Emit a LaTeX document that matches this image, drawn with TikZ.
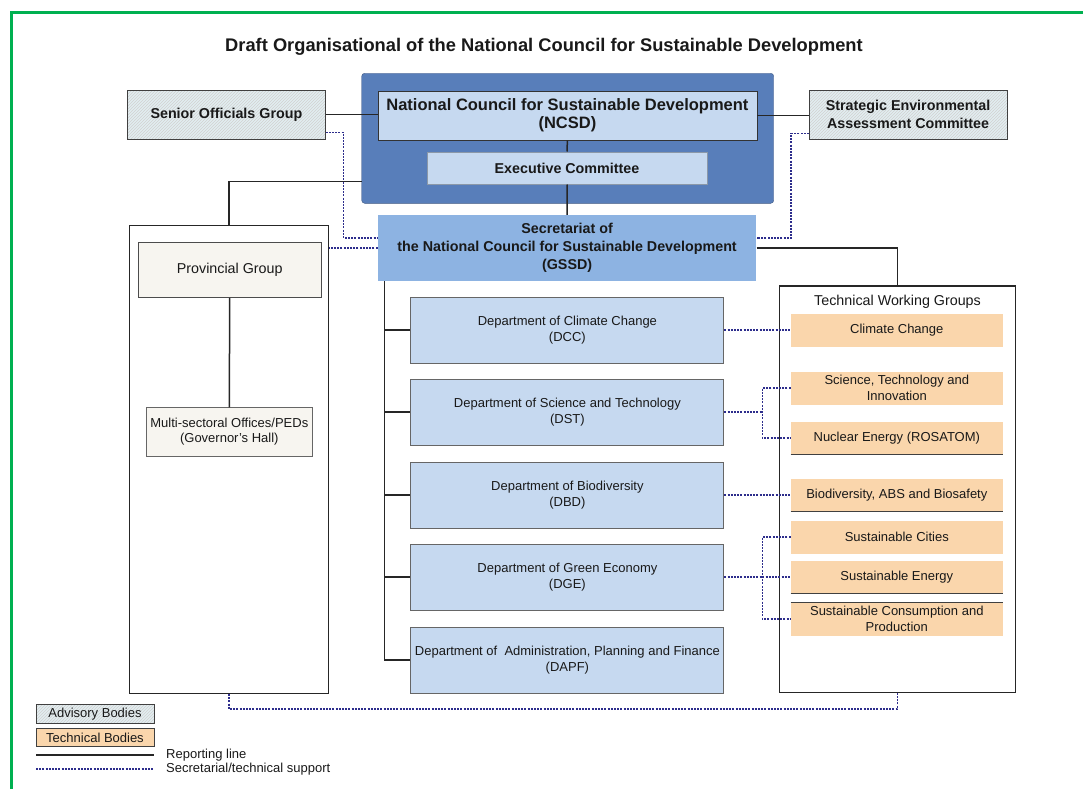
\documentclass[tikz,border=0pt]{standalone}
\usepackage{fontspec}
\setmainfont{Liberation Sans}
\usetikzlibrary{patterns}

\definecolor{councilblue}{RGB}{88,126,186}
\definecolor{paleblue}{RGB}{198,217,240}
\definecolor{secblue}{RGB}{141,179,226}
\definecolor{advfill}{RGB}{226,238,241}
\definecolor{techfill}{RGB}{250,214,172}
\definecolor{provfill}{RGB}{247,245,240}
\definecolor{supportblue}{RGB}{45,45,140}
\definecolor{framegreen}{RGB}{0,176,80}

\newcommand{\orgtitle}{\fontsize{18.3}{22}\selectfont\bfseries}
\newcommand{\orgbig}{\fontsize{16.5}{18}\selectfont\bfseries}
\newcommand{\orghead}{\fontsize{14.3}{18}\selectfont\bfseries}
\newcommand{\orgplain}{\fontsize{14.3}{17}\selectfont}
\newcommand{\orgtext}{\fontsize{13}{15.5}\selectfont}
\newcommand{\orgsmall}{\fontsize{13}{15}\selectfont}

\begin{document}
\begin{tikzpicture}[x=1pt,y=-1pt]
 	\tikzstyle{every node}+=[inner sep=0pt, align=center, text=black!90]
 	\tikzstyle{advisory}=[fill=advfill, postaction={pattern=north east lines, pattern color=black!18}, postaction={draw=black!75, line width=1pt}, minimum width=198pt, minimum height=49pt, font=\orghead]
 	\tikzstyle{dept}=[draw=black!60, line width=0.9pt, fill=paleblue, minimum width=313pt, minimum height=66pt, font=\orgtext]
 	\tikzstyle{techbox}=[fill=techfill, minimum width=212pt, minimum height=33pt, font=\orgtext]
 	\tikzstyle{report}=[black!85, line width=1.5pt]
 	\tikzstyle{support}=[supportblue, line width=1.7pt, dash pattern=on 2pt off 1.2pt]

 	\useasboundingbox (0,0) rectangle (1083,789);
 	\draw [framegreen, line width=3pt] (11.5,789) -- (11.5,13) -- (1083,13);

 	\node (title) at (544,47) {\orgtitle Draft Organisational of the National Council for Sustainable Development};

 	\node [draw=councilblue!70!black, fill=councilblue, rounded corners=3pt, minimum width=412pt, minimum height=130pt] (council) at (567.7,138.3) {};
 	\node [draw=black!80, line width=0.8pt, fill=paleblue, minimum width=379pt, minimum height=49pt, font=\orgbig] (ncsd) at (567.4,115.5) {National Council for Sustainable Development\\(NCSD)};
 	\node [draw=paleblue!70!black, fill=paleblue, minimum width=280pt, minimum height=32.6pt, font=\orghead] (exec) at (567,168) {Executive Committee};
 	\node [fill=secblue, minimum width=378.6pt, minimum height=66pt, font=\orghead] (gssd) at (567.1,248) {Secretariat of\\the National Council for Sustainable Development\\(GSSD)};
 	\node [advisory] (senior) at (226.4,114.7) {Senior Officials Group};
 	\node [advisory] (sea) at (908.1,114.7) {Strategic Environmental\\Assessment Committee};

 	\node [draw=black!85, line width=1.2pt, fill=white, minimum width=198.3pt, minimum height=467.6pt] (province) at (229,459.5) {};
 	\node [draw=black!70, line width=0.9pt, fill=provfill, minimum width=182.6pt, minimum height=55.2pt, font=\orgplain] (provgroup) at (229.7,269.9) {Provincial Group};
 	\node [draw=black!60, fill=provfill, minimum width=165.3pt, minimum height=48.3pt, font=\orgtext] (offices) at (229.3,431.8) {Multi-sectoral Offices/PEDs\\(Governor's Hall)};

 	\node [dept] (dcc) at (567.4,330) {Department of Climate Change\\(DCC)};
 	\node [dept] (dst) at (567.4,412) {Department of Science and Technology\\(DST)};
 	\node [dept] (dbd) at (567.4,495) {Department of Biodiversity\\(DBD)};
 	\node [dept] (dge) at (567.4,577) {Department of Green Economy\\(DGE)};
 	\node [dept] (dapf) at (567.4,660) {Department of \ Administration, Planning and Finance\\(DAPF)};

 	\node [draw=black!85, line width=1.2pt, fill=white, minimum width=236.3pt, minimum height=406.7pt] (twg) at (897.5,489.4) {};
 	\node [font=\orgplain] (twgtitle) at (897.5,301.7) {Technical Working Groups};
 	\node [techbox] (cc) at (896.8,330) {Climate Change};
 	\node [techbox] (sti) at (896.8,388) {Science, Technology and\\Innovation};
 	\node [techbox] (nuclear) at (896.8,438) {Nuclear Energy (ROSATOM)};
 	\node [techbox] (biosafety) at (896.8,495) {Biodiversity, ABS and Biosafety};
 	\node [techbox] (cities) at (896.8,537) {Sustainable Cities};
 	\node [techbox] (energy) at (896.8,577) {Sustainable Energy};
 	\node [techbox] (scp) at (896.8,619) {Sustainable Consumption and\\Production};
 	\draw [black!75, line width=1pt] (nuclear.south west) -- (nuclear.south east);
 	\draw [black!75, line width=1pt] (biosafety.south west) -- (biosafety.south east);
 	\draw [black!75, line width=1pt] (energy.south west) -- (energy.south east);
 	\draw [black!75, line width=1pt] (scp.north west) -- (scp.north east);

 	\draw [report] (senior.east) -- (senior.east -| ncsd.west);
 	\draw [report] (ncsd.east) -- (ncsd.east -| sea.west);
 	\draw [report] (ncsd.south) -- (exec.north);
 	\draw [report] (exec.south) -- (gssd.north);
 	\draw [report] ([yshift=22pt]council.south west) -| (province.north);
 	\draw [report] (gssd.east) -| (twg.north);
 	\draw [report] (provgroup.south) -- (offices.north);
 	\coordinate (spine) at ([xshift=7pt]gssd.south west);
 	\draw [report] (spine) |- (dapf.west);
 	\draw [report] (spine |- dcc.west) -- (dcc.west);
 	\draw [report] (spine |- dst.west) -- (dst.west);
 	\draw [report] (spine |- dbd.west) -- (dbd.west);
 	\draw [report] (spine |- dge.west) -- (dge.west);

 	\draw [support] ([yshift=7pt]senior.south east) -- ++(18,0) |- ([yshift=10pt]gssd.west);
 	\draw [support] ([yshift=6pt]sea.south west) -- ++(-17.7,0) |- ([yshift=10pt]gssd.east);
 	\draw [support] (gssd.west) -- (gssd.west -| province.east);
 	\draw [support] (dcc.east) -- (cc.west);
 	\draw [support] (dst.east) -- ++(38,0) coordinate (stjoin);
 	\draw [support] (sti.west) -| (stjoin) |- (nuclear.west);
 	\draw [support] (dbd.east) -- (biosafety.west);
 	\draw [support] (dge.east) -- ++(38,0) coordinate (gejoin);
 	\draw [support] (cities.west) -| (gejoin) |- (scp.west);
 	\draw [support] (gejoin) -- (energy.west);
 	\draw [support] (province.south) -- ++(0,15) -| (twg.south);

 	\node [advisory, minimum width=118pt, minimum height=18.3pt, font=\orgsmall] (advkey) at (95,714) {Advisory Bodies};
 	\node [techbox, draw=black!75, line width=1pt, minimum width=118pt, minimum height=18.3pt, font=\orgsmall] (techkey) at (95,737.5) {Technical Bodies};
 	\coordinate (reportstart) at (36,755);
 	\coordinate (reportend) at (154,755);
 	\draw [report] (reportstart) -- (reportend);
 	\node [anchor=west, font=\orgsmall] (reportlabel) at (166,755) {Reporting line};
 	\coordinate (supportstart) at (36,769.3);
 	\coordinate (supportend) at (154,769.3);
 	\draw [support] (supportstart) -- (supportend);
 	\node [anchor=west, font=\orgsmall] (supportlabel) at (166,769.3) {Secretarial/technical support};
\end{tikzpicture}
\end{document}
